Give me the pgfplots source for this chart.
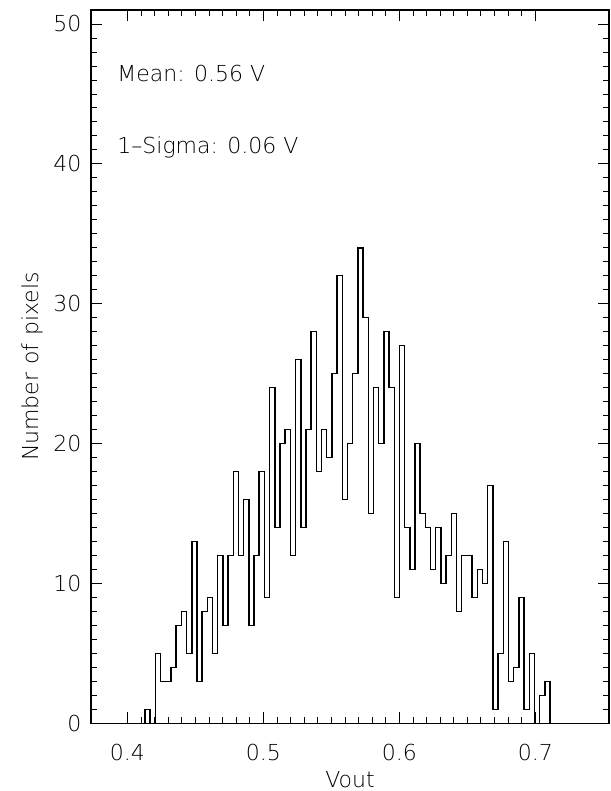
\documentclass[border=0pt]{standalone}
\usepackage{fontspec}
\IfFontExistsTF{DejaVu Sans ExtraLight}
  {\setmainfont{DejaVu Sans ExtraLight}}
  {\setmainfont{DejaVu Sans}}
\usepackage{pgfplots}
\pgfplotsset{compat=1.18}

\begin{document}
\fontsize{22bp}{26bp}\selectfont
\begin{tikzpicture}
\begin{axis}[
    scale only axis,
    width=518bp, height=713.3bp,
    xmin=0.3733, xmax=0.7542,
    ymin=0, ymax=51,
    xtick={0.4,0.5,0.6,0.7},
    xticklabels={0.4,0.5,0.6,0.7},
    minor x tick num=9,
    ytick={0,10,20,30,40,50},
    minor y tick num=9,
    tick align=inside,
    major tick length=11bp,
    minor tick length=6bp,
    axis line style={line width=1.1bp},
    every tick/.style={black, line width=0.8bp},
    /pgf/number format/assume math mode=true,
    xticklabel style={anchor=north, inner sep=0pt, yshift=-20.5bp},
    yticklabel style={anchor=east, inner sep=0pt, xshift=-9.5bp},
    xlabel={Vout},
    ylabel={Number\hspace{0.35em}of\hspace{0.35em}pixels},
    xlabel style={at={(axis description cs:0.5,0)}, anchor=north, inner sep=0pt, yshift=-47.7bp},
    ylabel style={at={(axis description cs:-0.1139,0.5)}, anchor=center, inner sep=0pt},
]
\addplot[const plot mark left, black, line width=1.5bp, mark=none] coordinates {
    (0.3733,0) (0.4130,1) (0.4168,0) (0.4206,5) (0.4245,3) (0.4283,3) (0.4321,4)
    (0.4359,7) (0.4397,8) (0.4436,5) (0.4474,13) (0.4512,3) (0.4550,8)
    (0.4588,9) (0.4626,5) (0.4665,12) (0.4703,7) (0.4741,12) (0.4779,18)
    (0.4817,12) (0.4856,16) (0.4894,7) (0.4932,12) (0.4970,18) (0.5008,9)
    (0.5046,24) (0.5085,14) (0.5123,20) (0.5161,21) (0.5199,12) (0.5237,26)
    (0.5276,14) (0.5314,21) (0.5352,28) (0.5390,18) (0.5428,21) (0.5466,19)
    (0.5505,25) (0.5543,32) (0.5581,16) (0.5619,20) (0.5657,25) (0.5696,34)
    (0.5734,29) (0.5772,15) (0.5810,24) (0.5848,20) (0.5886,28) (0.5925,24)
    (0.5963,9) (0.6001,27) (0.6039,14) (0.6077,11) (0.6116,20) (0.6154,15)
    (0.6192,14) (0.6230,11) (0.6268,14) (0.6306,10) (0.6345,12) (0.6383,15)
    (0.6421,8) (0.6459,12) (0.6497,12) (0.6536,9) (0.6574,11) (0.6612,10)
    (0.6650,17) (0.6688,1) (0.6726,5) (0.6765,13) (0.6803,3) (0.6841,4)
    (0.6879,9) (0.6917,1) (0.6956,5) (0.6994,0) (0.7032,2) (0.7070,3)
    (0.7108,0) (0.7542,0)
};
\node[anchor=base west, inner sep=0pt] at (axis cs:0.3926,45.88) {Mean: 0.56 V};
\node[anchor=base west, inner sep=0pt] at (axis cs:0.3926,40.76) {1–Sigma: 0.06 V};
\coordinate (bl) at (rel axis cs:0,0);
\coordinate (tr) at (rel axis cs:1,1);
\end{axis}
\pgfresetboundingbox
\path[use as bounding box] ([shift={(-91bp,-67.7bp)}]bl) rectangle ([shift={(2bp,10bp)}]tr);
\end{tikzpicture}
\end{document}
